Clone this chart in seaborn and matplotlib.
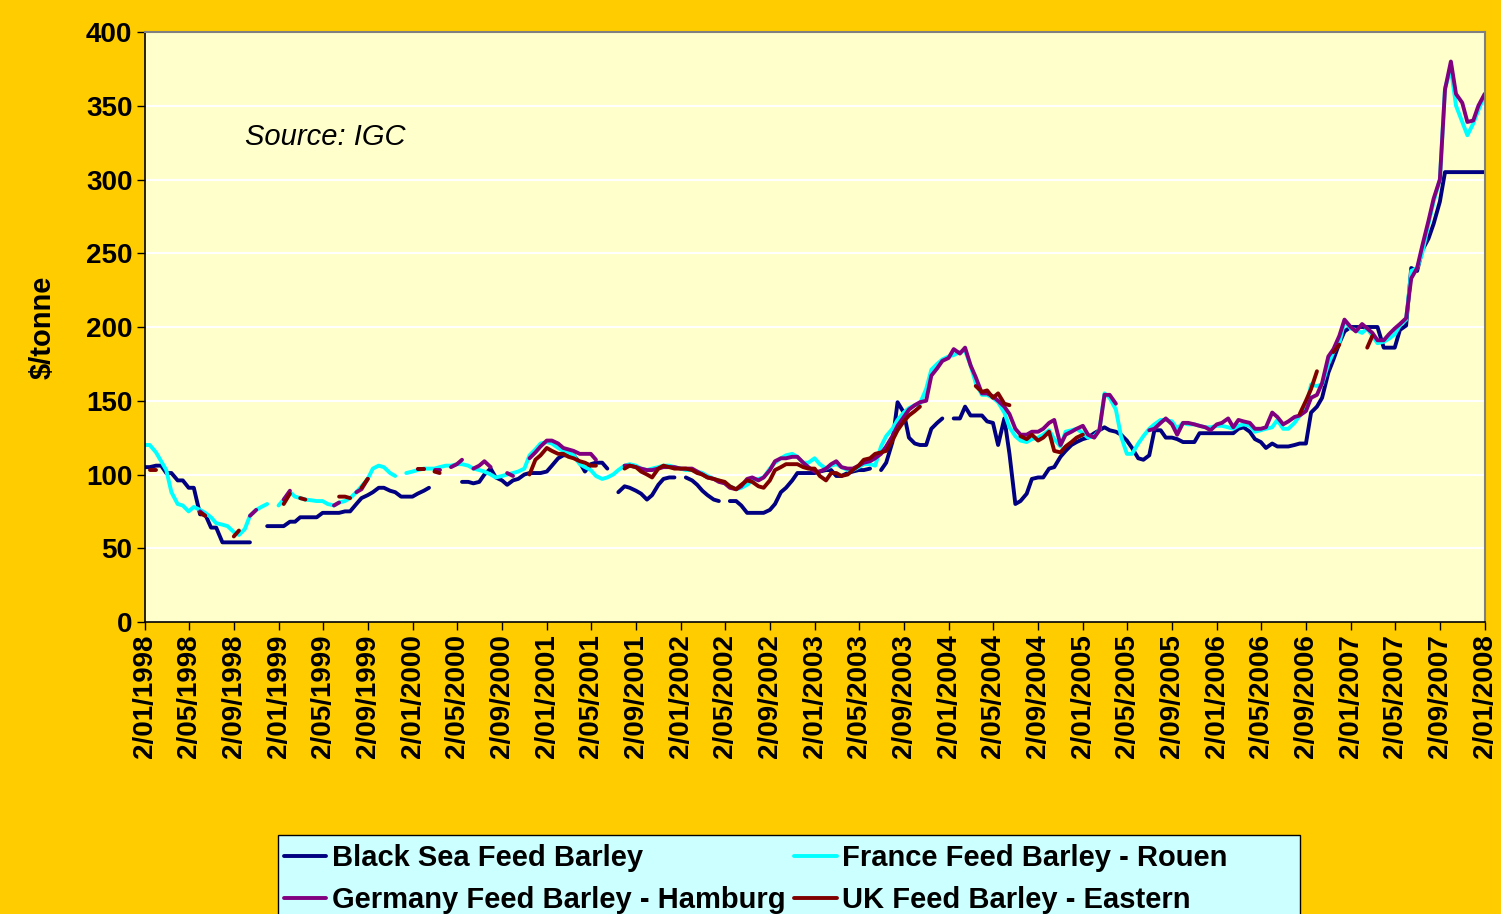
import numpy as np
import pandas as pd
import matplotlib
matplotlib.use('Agg')
import matplotlib.pyplot as plt
from matplotlib.lines import Line2D
from matplotlib.patches import Rectangle
import seaborn as sns

nan = np.nan

# fechas cada medio mes (1 y 15), ene 1998 - ene 2008
fechas = pd.date_range('1998-01-01', '2008-01-01', freq='SMS')

black_sea = [105, 105, 106, 106, 101, 101, 96, 96, 91, 91,
             73, 73, 64, 64, 54, 54, 54, 54, 54, 54,
             nan, nan, 65, 65, 65, 65, 68, 68, 71, 71,
             71, 71, 74, 74, 74, 74, 75, 75, 80, 84,
             86, 88, 91, 91, 89, 88, 85, 85, 85, 87,
             89, 91, nan, nan, nan, nan, nan, 95, 95, 94,
             95, 100, 104, 98, 96, 93, 96, 97, 100, 101,
             101, 101, 102, 106, 111, 113, 113, 113, 108, 102,
             107, 108, 108, 104, nan, 88, 92, 91, 89, 87,
             83, 86, 93, 97, 98, 98, nan, 98, 96, 93,
             89, 86, 83, 82, nan, 82, 82, 79, 74, 74,
             74, 74, 76, 80, 88, 91, 96, 101, 101, 101,
             101, 102, 103, 103, 99, 99, 101, 102, 103, 103,
             104, nan, 103, 108, 122, 149, 142, 125, 121, 120,
             120, 131, 135, 138, nan, 138, 138, 146, 140, 140,
             140, 136, 135, 120, 138, 114, 80, 82, 87, 97,
             98, 98, 104, 105, 112, 116, 120, 122, 124, 125,
             128, 130, 132, 130, 129, 127, 123, 118, 111, 110,
             113, 130, 130, 125, 125, 124, 122, 122, 122, 128,
             128, 128, 128, 128, 128, 128, 131, 132, 129, 124,
             122, 118, 121, 119, 119, 119, 120, 121, 121, 142,
             146, 152, 169, 178, 189, 197, 200, 200, 200, 200,
             200, 200, 186, 186, 186, 198, 201, 240, 238, 252,
             260, 270, 285, 305, 305, 305, 305, 305, 305, 305,
             305]

france = [120, 120, 115, 109, 103, 88, 80, 79, 75, 78,
          76, 74, 71, 67, 66, 65, 61, 59, 63, 72,
          76, 78, 80, nan, 79, 83, 88, 85, 84, 83,
          82.5, 82, 82, 80, 79, 81, 82, 84, 88, 92,
          97, 104, 106, 105, 101, 99, nan, 101, 102, 103,
          104, 104, 104, 105, 106, 106, 107, 107, 106, 104,
          103, 102, 100, 98, 99, 100, 101, 102, 104, 113,
          117, 121, 122, 121, 118, 116, 115, 113, 107, 105,
          103, 99, 97, 98, 100, 103, 106, 107, 106, 104,
          103, 104, 105, 106, 106, 105, 104, 103, 103, 102,
          101, 99, 97, 96, 94, 92, 90, 91, 93, 96,
          97, 98, 104, 108, 111, 113, 114, 112, 108, 108,
          111, 107, 104, 106, 107, 105, 103, 103, 105, 107,
          107, 106, 119, 126, 131, 137, 142, 145, 147, 148,
          158, 171, 175, 178, 180, 181, 183, 184, 174, 162,
          154, 154, 152, 149, 142, 132, 126, 123, 122, 124,
          125, 127, 130, 124, 119, 129, 130, 131, 128, 125,
          126, 130, 155, 152, 144, 126, 114, 114, 121, 126,
          131, 134, 137, 137, 136, 131, 135, 134, 134, 133,
          132, 132, 133, 133, 132, 131, 133, 134, 133, 129,
          130, 131, 132, 137, 131, 131, 135, 140, 145, 161,
          160, 161, 175, 183, 189, 204, 199, 198, 196, 199,
          194, 189, 190, 192, 195, 201, 205, 238, 240, 250,
          270, 285, 300, 362, 375, 350, 339, 330, 338, 347,
          357]

germany = [nan, nan, nan, nan, nan, nan, nan, nan, nan, nan,
           75, 72, nan, nan, nan, nan, nan, nan, nan, 72,
           76, nan, nan, nan, nan, 83, 89, nan, nan, nan,
           nan, nan, nan, nan, 79, 81, nan, nan, 88, 90,
           97, nan, nan, nan, nan, nan, nan, nan, nan, 104,
           104, nan, 103, 103, nan, 105, 107, 110, nan, 104,
           106, 109, 105, nan, nan, 101, 99, nan, nan, 111,
           115, 119, 123, 123, 121, 118, 117, 116, 114, 114,
           114, 110, nan, nan, nan, nan, 106, 106, 105, 104,
           103, 103, 104, 105, 105, 105, 104, 104, 104, 102,
           100, 98, 97, 95, 94, 91, 90, 92, 97, 98,
           96, 98, 103, 109, 111, 111, 112, 112, 108, 105,
           102, 102, 104, 107, 109, 105, 104, 104, 106, 108,
           109, 111, 114, 119, 126, 133, 139, 144, 147, 149,
           150, 167, 172, 177, 179, 185, 182, 186, 174, 166,
           155, 155, 153, 150, 146, 141, 131, 127, 127, 129,
           129, 131, 135, 137, 120, 127, 129, 131, 133, 127,
           125, 130, 154, 154, 148, nan, nan, nan, nan, nan,
           130, 131, 135, 138, 134, 127, 135, 135, 134, 133,
           132, 130, 134, 135, 138, 132, 137, 136, 135, 131,
           131, 132, 142, 139, 134, 136, 139, 140, 143, 152,
           154, 162, 180, 185, 194, 205, 200, 197, 202, 199,
           196, 191, 191, 195, 199, 202, 206, 233, 240, 255,
           272, 287, 300, 361, 380, 358, 352, 339, 340, 350,
           358]

uk = [nan, 103, 103, nan, nan, nan, nan, nan, nan, nan,
      74, 72, nan, nan, nan, nan, 58, 62, nan, nan,
      nan, nan, nan, nan, nan, 80, 87, nan, 84, 83,
      nan, nan, nan, nan, nan, 85, 85, 84, nan, 91,
      97, nan, nan, nan, nan, nan, nan, nan, nan, 104,
      104, nan, 102, 101, nan, nan, nan, nan, nan, nan,
      nan, nan, nan, nan, nan, nan, nan, nan, nan, 100,
      110, 113, 118, 116, 114, 114, 112, 111, 109, 108,
      106, 106, nan, nan, nan, nan, 104, 106, 105, 102,
      100, 98, 104, 106, 105, 104, 104, 104, 103, 101,
      100, 98, 97, 96, 95, 92, 90, 93, 96, 95,
      92, 91, 96, 103, 105, 107, 107, 107, 105, 104,
      104, 99, 96, 101, 101, 99, 100, 103, 106, 110,
      111, 114, 115, 116, 123, 130, 136, 140, 143, 146,
      nan, nan, nan, nan, nan, nan, nan, nan, nan, 160,
      156, 157, 152, 155, 148, 147, nan, 126, 124, 127,
      123, 125, 129, 116, 115, 119, 122, 125, 127, nan,
      nan, nan, nan, nan, nan, nan, nan, nan, nan, nan,
      nan, nan, nan, nan, nan, nan, nan, nan, nan, nan,
      nan, nan, nan, nan, nan, nan, nan, nan, nan, nan,
      nan, nan, nan, nan, nan, nan, nan, 141, 150, 158,
      170, nan, nan, 183, 188, nan, nan, nan, nan, 186,
      194, nan, nan, nan, nan, nan, nan, nan, nan, nan,
      nan, nan, nan, nan, nan, nan, nan, nan, nan, nan,
      nan]

series = ['Black Sea Feed Barley', 'France Feed Barley - Rouen',
          'Germany Feed Barley - Hamburg', 'UK Feed Barley - Eastern']
colores = ['#000080', '#00FFFF', '#800080', '#800000']

# tabla larga; cada tramo sin huecos es una "unidad" para que las lineas se corten
tablas = []
for nombre, valores in zip(series, [black_sea, france, germany, uk]):
    t = pd.DataFrame({'fecha': fechas, 'precio': valores, 'serie': nombre})
    t['tramo'] = t['precio'].isna().cumsum()
    tablas.append(t.dropna())
df = pd.concat(tablas, ignore_index=True)

sns.set_style('white')
plt.rcParams['font.family'] = ['Liberation Sans', 'DejaVu Sans']
plt.rcParams.update({'text.color': 'black', 'axes.labelcolor': 'black',
                     'xtick.color': 'black', 'ytick.color': 'black'})

fig = plt.figure(figsize=(15.01, 9.14), dpi=100, facecolor='#FFCC00')
ax = fig.add_axes([145 / 1501, 1 - 622 / 914, 1340 / 1501, 590 / 914])
ax.set_facecolor('#FFFFCC')

sns.lineplot(data=df, x='fecha', y='precio', hue='serie', units='tramo',
             estimator=None, hue_order=series,
             palette=dict(zip(series, colores)), linewidth=2.8,
             legend=False, ax=ax)

# ejes
marcas = pd.date_range('1998-01-02', '2008-01-02', freq=pd.DateOffset(months=4))
ax.set_xlim(pd.Timestamp('1998-01-02'), pd.Timestamp('2008-01-02'))
ax.set_xticks(marcas)
ax.set_xticklabels([f'{d.day}/{d.month:02d}/{d.year}' for d in marcas],
                   rotation=90, fontsize=20, fontweight='bold')
ax.set_ylim(0, 400)
ax.set_yticks(range(0, 401, 50))
ax.set_yticklabels([str(v) for v in range(0, 401, 50)], fontsize=20, fontweight='bold')
ax.set_xlabel('')
ax.set_ylabel(r'\$/tonne', fontsize=21, fontweight='bold')
ax.yaxis.set_label_coords(-0.066, 0.5)

ax.set_axisbelow(True)
ax.yaxis.grid(True, color='white', linewidth=1.5)
ax.xaxis.grid(False)
ax.tick_params(axis='both', direction='out', length=6, width=1, color='black',
               labelcolor='black', bottom=True, left=True, pad=3)
for lado in ['left', 'bottom']:
    ax.spines[lado].set_color('black')
    ax.spines[lado].set_linewidth(1.2)
for lado in ['top', 'right']:
    ax.spines[lado].set_color('#808080')
    ax.spines[lado].set_linewidth(1.5)

ax.text(0.0746, 0.822, 'Source: IGC', transform=ax.transAxes, fontsize=21,
        fontstyle='italic', color='black', ha='left', va='center')

# caja de la leyenda (se sale por abajo, como en el original)
fig.patches.append(Rectangle((278 / 1501, 1 - 935 / 914), 1022 / 1501, 100 / 914,
                             transform=fig.transFigure, facecolor='#CCFFFF',
                             edgecolor='black', linewidth=1, zorder=1))

# leyenda: columnas (Black Sea, Germany) y (France, UK)
orden = [0, 2, 1, 3]
manejadores = [Line2D([], [], color=colores[i], linewidth=2.8) for i in orden]
leg = fig.legend(manejadores, [series[i] for i in orden], loc='upper left',
                 bbox_to_anchor=(275 / 1501, 1 - 835 / 914), ncol=2,
                 frameon=False, prop={'size': 21, 'weight': 'bold'},
                 handlelength=1.45, handletextpad=0.2, columnspacing=0.3,
                 borderpad=0.3, labelspacing=0.5, borderaxespad=0)
leg.set_zorder(2)

fig.savefig('out.png', dpi=100, facecolor=fig.get_facecolor())
